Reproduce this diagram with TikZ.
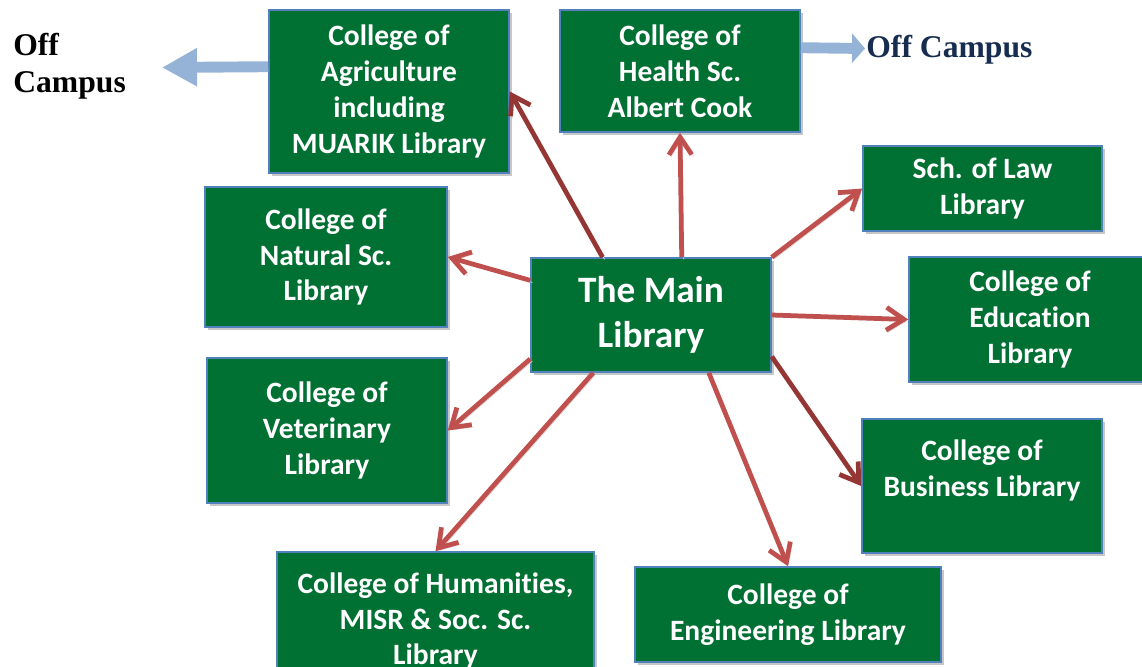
\documentclass[tikz,border=0pt]{standalone}
\usepackage{fontspec}
\setmainfont{Carlito}[Ligatures={NoCommon,NoContextual}]
\newfontfamily\offfont{Liberation Serif}
\usetikzlibrary{arrows.meta,shadows,calc}
\definecolor{libgreen}{RGB}{0,112,51}
\definecolor{libedge}{RGB}{79,129,189}
\definecolor{libred}{RGB}{192,80,77}
\definecolor{libdark}{RGB}{148,54,52}
\definecolor{offblue}{RGB}{149,179,215}
\definecolor{offnavy}{RGB}{23,45,80}
\tikzset{>={Straight Barb[length=10pt,width=13pt]}}
\newcommand{\boxw}{4.8cm}

\begin{document}
\begin{tikzpicture}[x=0.02cm,y=-0.02cm]
  \tikzstyle{libbox}=[draw=libedge, line width=0.9pt, fill=libgreen, text=white, font=\fontsize{16.8}{20.4}\selectfont\bfseries, align=center, inner sep=2pt, minimum width=\boxw, drop shadow={shadow xshift=1.6pt, shadow yshift=-1.6pt, fill=black!22, opacity=1}]
  \tikzstyle{mainbox}=[libbox, font=\fontsize{21.2}{25.5}\selectfont\bfseries]
  \tikzstyle{link}=[->, line width=2.7pt, draw=libred, preaction={draw=black!15, transform canvas={xshift=1.2pt, yshift=-1.2pt}}]
  \tikzstyle{darklink}=[link, draw=libdark]
  \tikzstyle{offarrow}=[draw=offblue, line width=6.2pt]
  \tikzstyle{offtext}=[font=\offfont\fontsize{18}{21}\selectfont\bfseries, inner sep=0pt]
  \useasboundingbox (0,0) rectangle (1142,666);
  % the libraries
  \node[libbox, minimum height=3.26cm] (agri) at (389,91.5) {College of\\Agriculture\\including\\MUARIK Library};
  \node[libbox, minimum height=2.44cm] (health) at (680,71) {College of\\Health Sc.\\Albert Cook};
  \node[libbox, minimum width=4.78cm, minimum height=1.7cm] (law) at (982.5,188.5) {Sch. of Law\\Library};
  \node[libbox, minimum width=4.84cm, minimum height=2.8cm] (natural) at (326,257) {College of\\Natural Sc.\\Library};
  \node[mainbox, minimum height=2.28cm] (main) at (651,315) {The Main\\Library};
  \node[libbox, minimum width=4.84cm, minimum height=2.5cm] (educ) at (1030,319.5) {College of\\Education\\Library};
  \node[libbox, minimum height=2.9cm] (vet) at (327,430.5) {College of\\Veterinary\\Library};
  \node[libbox, minimum height=2.68cm] (business) at (982,486) {College of\\Business Library\\\mbox{}};
  \node[libbox, minimum width=6.34cm, minimum height=2.76cm] (human) at (435.5,621) {College of Humanities,\\MISR \& Soc. Sc.\\Library};
  \node[libbox, minimum width=6.12cm, minimum height=1.9cm] (engin) at (788,614.5) {College of\\Engineering Library};
  % links from the main library
  \draw[darklink] (main.130) -- (agri.east);
  \draw[link] (main.62) -- (health.south);
  \draw[link] (main.north east) -- (law.west);
  \draw[link] (main.164) -- (natural.east);
  \draw[link] (main.east) -- (educ.west);
  \draw[link] (main.200) -- (vet.east);
  \draw[link] (main.225) -- (human.north);
  \draw[link] (main.315) -- (engin.north);
  \draw[darklink] (main.341) -- (business.west);
  % off campus
  \coordinate (agriout) at ($(agri.north west)+(0,57.5)$);
  \coordinate (offleft) at (162,67.5);
  \coordinate (healthout) at ($(health.north east)+(0,38.5)$);
  \coordinate (offright) at (865,48.5);
  \draw[offarrow, -{Triangle[length=0.7cm,width=0.72cm]}] (agriout) -- (offleft);
  \draw[offarrow, -{Triangle[length=0.26cm,width=0.58cm]}] (healthout) -- (offright);
  \node[offtext, anchor=north west, align=left] (offtextl) at (13,33) {Off\\Campus};
  \node[offtext, text=offnavy, anchor=base west] (offtextr) at (866,57) {Off Campus};
\end{tikzpicture}
\end{document}
